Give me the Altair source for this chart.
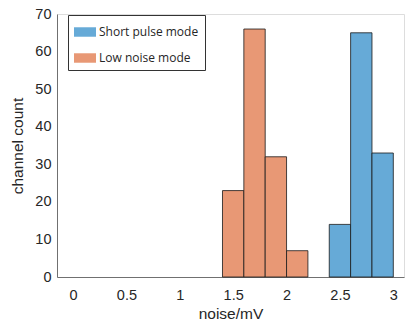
import altair as alt
import pandas as pd

# Data
low_bin_start = [1.4, 1.6, 1.8, 2.0]
low_counts = [23, 66, 32, 7]
short_bin_start = [2.4, 2.6, 2.8]
short_counts = [14, 65, 33]
bin_width = 0.2
series_names = ["Short pulse mode", "\u00a0Low noise mode"]
series_colors = ["#66AAD7", "#E89875"]
x_ticks = [0, 0.5, 1, 1.5, 2, 2.5, 3]
y_ticks = [0, 10, 20, 30, 40, 50, 60, 70]

rows = []
for s, c in zip(short_bin_start, short_counts):
    rows.append({"series": series_names[0], "x0": s, "x1": round(s + bin_width, 2), "count": c})
for s, c in zip(low_bin_start, low_counts):
    rows.append({"series": series_names[1], "x0": s, "x1": round(s + bin_width, 2), "count": c})
df = pd.DataFrame(rows)

FONT = "Liberation Sans"

bars = alt.Chart(df).mark_rect(stroke="#1a1a1a", strokeWidth=1, strokeOpacity=0.8).encode(
    x=alt.X("x0:Q",
            scale=alt.Scale(domain=[-0.15, 3.1], nice=False, zero=False),
            axis=alt.Axis(title="noise/mV", values=x_ticks, format="~g", grid=False,
                          ticks=False, labelPadding=11, titlePadding=5,
                          domainColor="#707070", labelColor="#262626", titleColor="#262626",
                          labelFontSize=14.5, titleFontSize=15.5, titleFontWeight="normal",
                          labelFont=FONT, titleFont=FONT)),
    x2="x1:Q",
    y=alt.Y("count:Q",
            scale=alt.Scale(domain=[0, 70], nice=False),
            axis=alt.Axis(title="channel count", values=y_ticks, grid=False,
                          ticks=False, labelPadding=6, titlePadding=9,
                          domainColor="#707070", labelColor="#262626", titleColor="#262626",
                          labelFontSize=14.5, titleFontSize=15.5, titleFontWeight="normal",
                          labelFont=FONT, titleFont=FONT)),
    y2=alt.datum(0),
    color=alt.Color("series:N",
                    scale=alt.Scale(domain=series_names, range=series_colors),
                    legend=alt.Legend(title=None, orient="none", legendX=11, legendY=1,
                                      symbolType="M-1,-0.43L1,-0.43L1,0.43L-1,0.43Z",
                                      symbolSize=484,
                                      symbolStrokeWidth=0,
                                      labelFont="Open Sans", labelFontSize=12,
                                      labelColor="#262626",
                                      strokeColor="#333333", fillColor="white",
                                      padding=6, rowPadding=9, labelOffset=3)),
)

chart = bars.properties(
    width=347, height=263,
    autosize=alt.AutoSizeParams(type="none"),
    padding={"left": 57, "top": 14, "right": 1, "bottom": 50},
).configure_view(stroke=None).configure(background="white")

chart.save("out.html", embed_options={"renderer": "svg", "actions": False})
